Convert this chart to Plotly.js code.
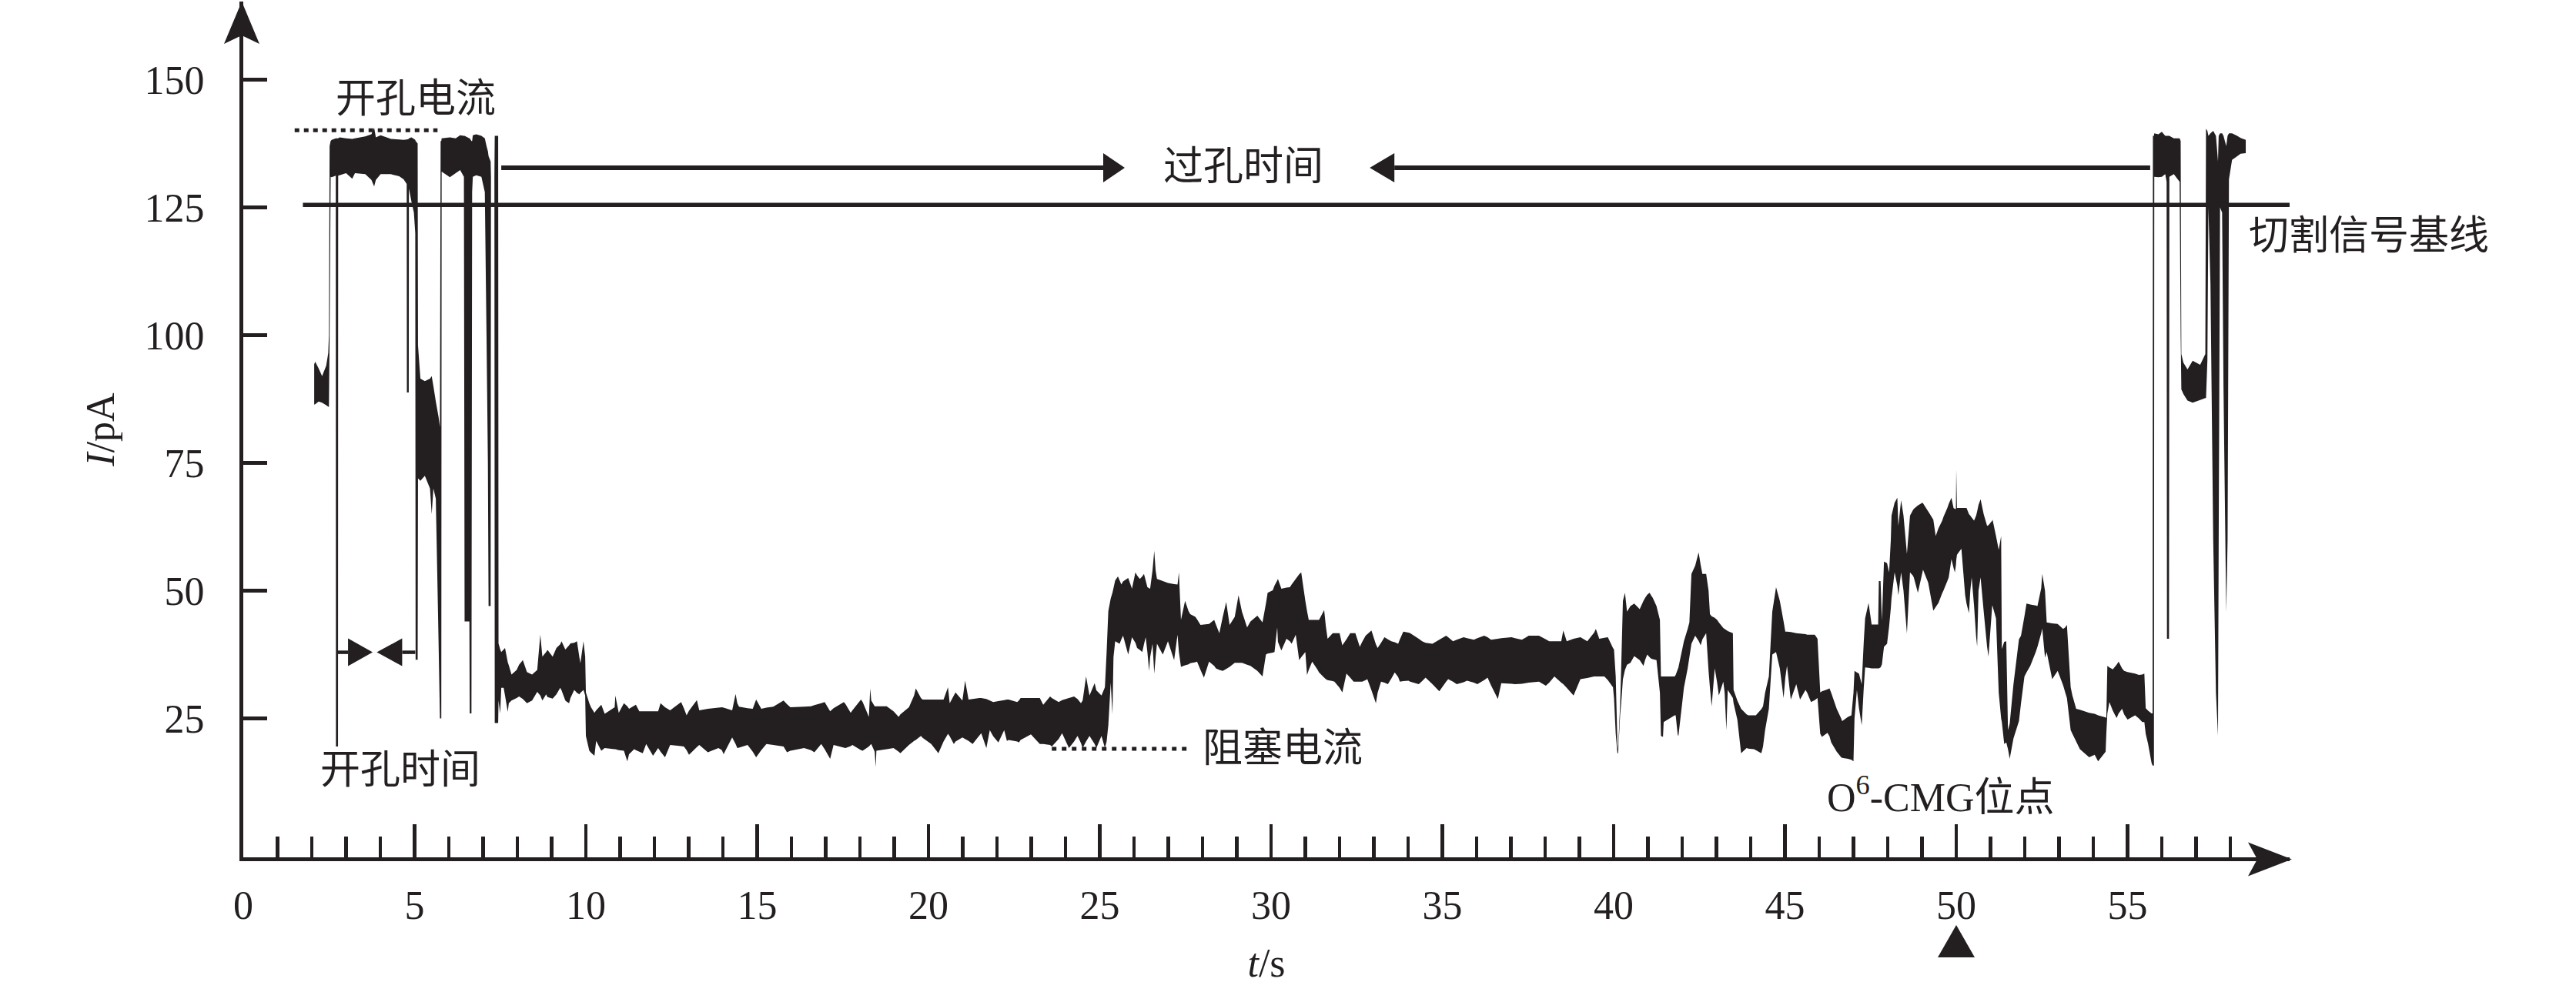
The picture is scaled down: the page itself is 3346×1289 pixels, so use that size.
<!DOCTYPE html>
<html>
<head>
<meta charset="utf-8">
<script src="https://cdn.plot.ly/plotly-3.0.1.min.js"></script>
<style>
html,body{margin:0;padding:0;background:#ffffff;}
#chart{width:3346px;height:1289px;}
</style>
</head>
<body>
<div id="chart"></div>
<script>
// ---------- DATA (time in s, upper / lower envelope of the current trace in pA) ----------
const entrySeg = [
[2.07,94.3,86.4],[2.10,94.8,86.5],[2.20,93.5,87.0],[2.30,92.0,86.8],[2.42,94.0,86.3],[2.48,96.5,86.0],
[2.50,100,86.0],[2.52,137.0,100],[2.55,138.0,131.0],[2.58,138.2,130.9],[2.70,138.5,131.2],[2.705,138.5,19.5],
[2.765,138.5,19.5],[2.77,138.5,131.2],[2.81,138.7,131.3],[3.00,138.5,131.7],[3.18,138.4,130.6],[3.26,138.5,131.7],
[3.56,138.9,131.5],[3.74,139.3,130.4],[3.82,140.6,129.1],[3.87,138.7,130.4],[4.01,139.1,131.5],[4.31,138.4,131.5],
[4.55,138.3,131.1],[4.68,138.2,130.5],[4.77,138.3,129.6],[4.775,138.3,88.8],[4.83,138.4,88.8],[4.835,138.5,128.7],
[4.91,138.7,126.1],[4.98,138.4,124],[5.02,138.2,120],[5.03,138.0,36.5],[5.09,137.5,36.5],[5.10,98,72],
[5.17,91.5,71.5],[5.30,91.0,72.5],[5.45,91.5,70],[5.50,92.0,65],[5.55,90.0,70],[5.62,87.0,68],
[5.70,84.0,40],[5.74,82.0,25],[5.76,138,25],[5.78,138,25],[5.79,138.5,132],[6.03,138.7,130.9],
[6.20,138.5,131.7],[6.33,139.1,132.3],[6.44,139.0,131],[6.46,139.0,44],[6.60,138.5,44],[6.61,138.5,26],
[6.66,138,26],[6.68,138,128],[6.70,139.1,131],[6.80,139.3,131.3],[6.95,139.0,131.0],[7.05,138.5,128],
[7.10,137,100],[7.14,136,75],[7.16,135,47],[7.22,134,47],[7.23,131,131],[7.33,131,131],
[7.34,139,24.1],[7.44,139,24.1],[7.45,39.7,28.5]
];
const blockSeg1 = [
[7.50,38.5,26.0],[7.53,38.0,31.0],[7.60,38.5,31.0],[7.64,38.8,29.5],[7.72,36.0,26.3],[7.75,35.4,28.0],
[7.83,33.6,28.5],[7.98,34.5,29.0],[8.05,35.5,29.3],[8.16,36.4,28.8],[8.28,34.1,28.0],[8.43,33.6,28.5],
[8.58,34.5,30.2],[8.67,41.4,29.5],[8.73,37.1,28.5],[8.84,38.0,29.7],[8.88,38.4,29.2],[9.03,37.1,28.9],
[9.14,38.8,29.7],[9.25,39.5,31.0],[9.29,40.1,30.5],[9.40,38.5,28.5],[9.44,38.8,28.3],[9.51,39.3,28.0],
[9.55,39.7,29.0],[9.66,39.8,30.6],[9.74,40.1,30.0],[9.81,37.0,29.7],[9.84,35.8,30.0],[9.93,40.1,30.6],
[9.98,37.1,29.5],[10.00,30.1,21.6]
];
const blockSeg2 = [
[10.10,28.0,18.7],[10.15,27.2,18.3],[10.25,26.1,17.7],[10.30,26.6,20.6],[10.45,27.7,18.7],[10.55,25.9,19.2],
[10.84,27.2,19.0],[10.86,29.5,19.0],[10.96,26.1,18.8],[11.11,28.0,18.7],[11.21,27.4,16.6],[11.26,26.9,18.0],
[11.41,27.5,19.0],[11.46,27.7,18.8],[11.56,26.4,18.5],[11.66,26.4,18.2],[11.76,26.4,20.0],[11.96,26.4,17.7],
[12.11,26.4,19.2],[12.18,28.0,18.5],[12.31,27.2,17.4],[12.46,26.6,19.8],[12.78,28.2,19.6],[12.86,27.0,19.5],
[12.94,25.6,18.8],[13.01,26.5,17.9],[13.24,28.6,19.4],[13.31,26.6,19.8],[13.56,26.9,18.4],[13.87,27.1,19.2],
[13.97,27.2,18.8],[14.02,27.1,18.0],[14.27,26.6,21.3],[14.37,29.8,20.0],[14.42,28.0,19.2],[14.47,27.3,19.3],
[14.72,27.0,19.8],[14.87,26.9,18.5],[14.97,28.7,17.4],[15.12,26.9,18.8],[15.27,27.1,20.0],[15.47,27.3,19.8],
[15.77,28.5,19.5],[15.87,27.8,18.4],[15.97,27.2,18.7],[16.37,27.3,19.2],[16.57,27.4,18.8],[16.67,27.6,18.4],
[16.87,28.0,20.0],[16.97,28.2,19.0],[17.13,26.4,17.1],[17.23,27.0,19.8],[17.53,28.2,19.3],[17.58,27.8,19.2],
[17.73,26.1,19.6],[17.78,26.6,19.8],[18.03,28.7,18.8],[18.08,28.2,18.7],[18.26,25.3,19.5],[18.30,30.9,19.8],
[18.33,28.5,20.0],[18.43,27.4,18.5],[18.46,27.4,15.5],[18.48,27.4,18.7],[18.78,27.4,19.0],[18.98,26.4,19.2],
[19.13,25.3,18.5],[19.18,25.8,18.2],[19.43,27.2,19.8],[19.58,29.5,20.6],[19.63,30.9,20.8],[19.78,29.0,21.6],
[19.83,28.7,21.2],[20.08,28.7,20.0],[20.29,28.7,18.2],[20.44,28.7,20.5],[20.57,31.1,22.0],[20.62,28.0,21.5],
[20.74,29.5,20.0],[20.79,30.1,20.5],[20.99,28.5,21.3],[21.07,32.4,21.0],[21.17,28.7,20.6],[21.29,28.8,20.0],
[21.49,29.0,21.7],[21.54,29.0,22.1],[21.69,28.8,19.2],[21.79,28.5,22.7],[21.89,28.2,21.5],[22.04,28.4,20.3],
[22.21,28.6,22.7],[22.29,28.7,20.6],[22.34,28.7,20.8],[22.59,28.2,20.5],[22.64,28.5,20.3],[22.69,29.0,20.8],
[22.99,29.0,21.9],[23.25,29.0,20.0],[23.35,27.7,20.0],[23.55,29.3,19.8],[23.60,29.0,19.5],[23.80,28.2,21.0],
[23.90,28.6,22.1],[24.10,29.0,19.2],[24.25,29.3,20.5],[24.35,28.8,21.6],[24.45,28.0,20.2],[24.50,28.5,19.2],
[24.60,33.2,20.5],[24.70,29.5,21.6],[24.85,31.9,20.0],[24.90,30.5,19.2],[25.05,29.5,21.6],[25.15,31.1,19.2],
[25.20,38.0,20.5],[25.25,46.0,23.7],[25.32,48.5,32.0],[25.37,49.6,25.8],[25.40,50.5,37.0],[25.45,52.0,40.1]
];
const blockSeg3 = [
[25.53,52.8,39.8],[25.58,52.0,39.6],[25.63,51.2,40.5],[25.68,51.8,41.2],[25.83,52.5,37.5],[25.94,50.4,40.9],
[26.04,53.6,39.8],[26.09,53.0,38.8],[26.17,52.3,38.4],[26.24,52.8,38.0],[26.29,53.3,39.5],[26.34,52.0,40.9],
[26.39,50.7,38.0],[26.44,50.5,34.3],[26.47,50.4,37.0],[26.54,54.0,39.6],[26.59,57.8,33.8],[26.63,54.0,37.0],
[26.67,52.3,39.6],[26.84,51.9,37.5],[26.99,51.5,40.1],[27.17,51.3,36.4],[27.27,51.2,41.4],[27.31,53.6,38.0],
[27.37,44.3,35.1],[27.49,48.0,35.4],[27.59,46.0,35.6],[27.64,45.4,35.8],[27.79,44.9,36.0],[27.84,44.4,36.1],
[27.94,43.3,34.5],[28.04,43.4,33.0],[28.19,43.5,36.1],[28.34,44.3,35.3],[28.39,43.4,34.8],[28.49,41.7,34.5],
[28.59,44.9,34.3],[28.69,47.8,34.7],[28.79,43.3,35.1],[28.94,44.9,35.9],[29.05,49.1,35.9],[29.15,45.9,35.9],
[29.30,42.8,35.5],[29.40,44.0,35.3],[29.60,45.1,34.3],[29.75,43.8,33.2],[29.85,47.5,37.5],[29.90,49.6,37.7],
[30.05,50.1,37.9],[30.10,51.0,38.0],[30.18,52.0,42.8],[30.20,52.3,40.0],[30.30,50.4,38.3],[30.45,50.6,40.6],
[30.55,50.7,40.1],[30.60,51.2,39.6],[30.72,52.3,41.4],[30.82,53.2,36.4],[30.88,53.6,37.0],[31.00,48.0,38.0],
[31.05,46.0,33.5],[31.10,44.3,34.5],[31.20,44.3,36.1],[31.35,44.3,34.6],[31.40,44.3,34.0],[31.55,46.2,33.0],
[31.60,43.0,32.7],[31.65,40.6,32.5],[31.80,41.7,32.3],[31.85,41.7,32.2],[32.00,41.7,31.0],[32.08,39.3,30.1],
[32.20,40.5,33.8],[32.31,41.7,33.0],[32.41,41.7,32.2],[32.46,41.7,32.2],[32.59,39.0,32.2],[32.66,40.0,32.2],
[32.76,41.2,32.5],[32.81,41.5,32.7],[32.93,42.2,30.5],[33.06,39.5,28.0],[33.11,38.8,30.0],[33.21,39.8,32.2],
[33.31,40.9,32.0],[33.41,40.5,31.7],[33.51,40.1,32.8],[33.61,39.9,34.0],[33.71,39.6,33.1],[33.76,40.5,32.2],
[33.86,42.0,32.3],[34.01,41.8,32.4],[34.06,41.7,32.2],[34.31,40.6,31.7],[34.41,40.1,32.3],[34.51,39.8,33.0],
[34.71,39.6,31.7],[34.91,40.4,30.3],[35.11,41.2,32.2],[35.17,40.9,32.7],[35.31,40.1,32.2],[35.42,40.4,31.7],
[35.62,40.9,32.1],[35.72,40.7,32.4],[35.92,40.4,32.0],[36.02,40.7,31.7],[36.22,41.2,32.5],[36.32,40.9,33.0],
[36.42,40.4,31.5],[36.62,40.6,28.8],[36.72,40.7,31.9],[37.02,40.9,31.8],[37.12,40.7,31.7],[37.32,40.4,31.8],
[37.42,40.8,31.9],[37.52,41.2,32.0],[37.82,41.2,32.2],[38.02,40.5,31.4],[38.12,40.1,32.0],[38.27,40.1,33.2],
[38.47,40.1,32.0],[38.53,42.2,31.7],[38.63,40.1,31.0],[38.83,40.6,29.5],[39.03,40.9,32.7],[39.23,40.1,32.9],
[39.43,41.8,33.2],[39.48,42.5,33.2],[39.58,40.6,33.2],[39.73,40.8,33.2],[39.83,40.9,32.5],[39.98,38.8,31.1],
[40.01,38.5,29.0],[40.06,33.2,22.0],[40.11,20.0,18.2],[40.13,19.0,18.2],[40.19,28.0,25.8],[40.22,35.0,28.0],
[40.27,48.0,32.7]
];
const blockSeg4 = [
[40.33,49.6,34.5],[40.39,45.9,35.5],[40.49,47.0,35.9],[40.60,47.5,37.2],[40.76,46.4,36.4],[40.87,48.0,35.3],
[40.92,48.6,36.5],[40.98,49.2,37.5],[41.05,49.6,37.0],[41.09,49.1,36.7],[41.14,48.6,36.6],[41.25,47.0,36.4],
[41.35,44.3,30.0],[41.38,33.2,21.6],[41.44,33.2,21.4],[41.46,33.2,24.3],[41.78,33.2,25.6],[41.81,33.5,25.6],
[41.87,34.6,21.8],[41.89,35.0,21.6],[42.00,38.5,28.0],[42.05,40.1,31.0],[42.16,42.5,34.8],[42.21,43.8,37.0],
[42.27,53.3,39.6],[42.38,54.9,41.2],[42.48,57.5,40.2],[42.54,55.0,39.3],[42.59,53.3,40.5],[42.70,53.3,41.7],
[42.77,50.0,34.3],[42.81,45.4,31.0],[42.86,45.0,27.4],[42.95,44.7,34.8],[43.02,44.3,32.0],[43.07,43.8,29.5],
[43.20,42.7,32.2],[43.24,42.5,30.0],[43.29,42.3,22.7],[43.33,42.1,30.6],[43.48,41.7,29.0],[43.50,30.6,28.0],
[43.61,28.5,24.8],[43.72,26.9,18.2],[43.88,25.8,19.2],[43.93,25.6,19.1],[44.10,25.6,19.0],[44.15,25.6,18.8],
[44.31,26.8,18.2],[44.36,27.4,19.5],[44.42,30.0,22.7],[44.53,33.2,26.9],[44.63,45.9,37.5],[44.74,50.7,38.0],
[44.85,48.0,34.8],[44.96,44.0,29.0],[45.01,42.0,33.0],[45.06,42.0,35.3],[45.17,41.9,28.7],[45.33,41.7,31.7],
[45.44,41.6,28.7],[45.60,41.5,30.6],[45.65,41.4,30.0],[45.76,41.4,28.2],[45.87,41.4,28.6],[45.95,40.6,29.0],
[46.03,30.1,22.0],[46.08,30.3,21.4],[46.24,30.7,22.2],[46.30,30.9,21.5],[46.35,30.0,20.3],[46.51,26.9,18.5],
[46.64,25.0,17.4],[46.67,24.5,17.3],[46.84,25.3,17.1],[46.94,25.6,16.9],[47.00,30.0,16.6],[47.03,34.3,25.0],
[47.10,34.0,30.6],[47.16,33.8,27.0],[47.24,31.7,23.7],[47.30,40.0,31.0],[47.34,44.6,35.0],[47.44,47.6,34.9],
[47.53,43.4,34.8],[47.72,43.4,34.8],[47.74,51.9,34.8],[47.79,51.9,35.0],[47.83,44.1,35.6],[47.89,55.7,39.0],
[47.98,55.4,39.6],[48.04,53.6,43.0],[48.09,60.0,46.6],[48.11,64.7,48.5],[48.20,67.2,53.6],[48.28,68.2,51.0],
[48.31,62.7,49.1],[48.39,67.7,53.6],[48.46,64.7,50.0],[48.56,57.2,41.6],[48.65,64.7,53.6],[48.73,65.7,53.0],
[48.76,66.0,52.6],[48.88,66.7,49.6],[49.01,67.2,53.5],[49.03,67.1,54.1],[49.18,65.5,51.6],[49.21,65.2,50.5],
[49.33,63.9,46.1],[49.40,60.7,46.8],[49.48,62.2,47.6],[49.59,63.7,49.5],[49.63,64.5,50.1],[49.74,66.2,51.9],
[49.78,67.0,52.6],[49.86,68.2,56.2],[49.92,66.2,54.5],[49.96,66.0,53.6],[49.99,66.0,55.0],[50.00,73.7,56.0],
[50.02,66.2,57.0],[50.07,66.2,57.5],[50.15,66.2,58.2],[50.26,66.2,49.1],[50.30,66.2,47.5],[50.37,65.0,45.6],
[50.41,64.7,50.0],[50.45,64.3,52.6],[50.52,63.7,47.0],[50.58,64.7,41.0],[50.61,65.5,39.1],[50.65,66.8,50.0],
[50.71,67.9,52.6],[50.80,65.0,46.0],[50.90,62.7,39.0],[50.94,62.8,37.1],[51.05,63.7,47.1],[51.06,63.9,47.0],
[51.16,60.7,44.6],[51.24,58.0,30.0],[51.31,60.7,25.0],[51.33,38.6,24.3],[51.40,40.0,20.0],[51.46,40.1,20.3],
[51.51,22.7,19.0],[51.56,24.0,17.1],[51.67,31.7,21.1],[51.83,40.5,24.5],[51.89,41.2,28.0],[51.99,45.0,33.2],
[52.05,47.5,34.0],[52.16,47.3,35.3],[52.32,47.1,38.0],[52.37,47.0,39.0],[52.48,50.5,41.7],[52.51,53.3,42.6],
[52.59,50.0,36.9],[52.64,43.8,38.0],[52.80,43.6,32.7],[52.96,43.5,34.3],[53.12,42.5,31.5],[53.18,42.8,30.1],
[53.23,43.3,29.0],[53.34,31.1,22.7],[53.39,29.5,22.0],[53.50,26.9,20.5],[53.61,26.7,19.0],[53.88,26.1,17.4],
[54.04,25.9,17.9],[54.14,25.6,16.6],[54.36,25.2,18.5],[54.38,25.1,22.0],[54.41,35.3,26.0],[54.47,35.0,28.2],
[54.57,34.6,26.5],[54.68,35.5,25.1],[54.74,36.1,26.0],[54.84,34.8,26.9],[54.90,34.3,25.8],[55.00,34.1,24.8],
[55.22,33.8,25.6],[55.33,33.5,25.0],[55.43,33.6,24.3],[55.49,33.8,24.3],[55.53,27.0,22.0],[55.60,26.5,20.0],
[55.70,26.0,16.3],[55.73,26.0,15.8]
];
const exitSeg = [
[55.74,139.0,15.8],[55.77,139.0,15.8],[55.78,139.5,131.0],[55.90,139.3,130.9],[56.00,139.8,131.0],[56.10,139.0,131.5],
[56.14,139.0,130.0],[56.15,139.0,40.6],[56.21,139.0,40.6],[56.22,139.0,131.0],[56.35,138.5,131.5],[56.52,138.5,130.0],
[56.55,138.0,100.0],[56.57,96.3,89.4],[56.63,94.6,88.5],[56.75,93.3,87.2],[56.90,95.0,86.8],[57.12,94.2,87.3],
[57.27,96.3,87.7],[57.29,140.4,87.7],[57.33,140.0,95.0],[57.36,139.0,125.0],[57.42,139.5,110.0],[57.50,140.0,60.0],
[57.58,139.0,30.0],[57.64,134.0,21.6],[57.66,139.0,60.0],[57.70,139.5,125.0],[57.76,139.5,124.0],[57.80,139.0,90.0],
[57.88,137.0,45.8],[57.92,139.0,60.0],[57.96,139.5,130.5],[58.05,139.5,134.3],[58.20,139.0,135.0],[58.30,138.6,135.5],
[58.45,138.2,135.6]
];

const xMajorTicks = [0,5,10,15,20,25,30,35,40,45,50,55];
const xMajorLabels = ['0','5','10','15','20','25','30','35','40','45','50','55'];
const xMinorTicks = [1,2,3,4,6,7,8,9,11,12,13,14,16,17,18,19,21,22,23,24,26,27,28,29,31,32,33,34,36,37,38,39,41,42,43,44,46,47,48,49,51,52,53,54,56,57,58];
const yTicks = [25,50,75,100,125,150];
const yTickLabels = ['25','50','75','100','125','150'];

const baselinePA = 125.5;          // cut-signal baseline
const openPoreLevelPA = 140.1;     // open-pore current level
const openPoreSpanS = [1.50, 5.67];
const blockLevelPA = 19.06;        // blockade current level
const blockSpanS = [23.6, 27.69];
const transitLevelPA = 132.75;     // translocation-time arrows
const transitLeftS = [7.53, 25.73];
const transitRightS = [32.88, 55.66];
const openTimeLevelPA = 37.95;     // open-pore-time markers
const openTimeSpanS = [2.72, 5.02];
const siteTimeS = 50;              // O6-CMG site

const labelTexts = ['开孔电流','过孔时间','切割信号基线','开孔时间','阻塞电流','O<sup>6</sup>-CMG位点'];

// ---------- LAYOUT ----------
const INK = '#231f20';
const SERIF = 'Liberation Serif, Noto Sans CJK SC, serif';
const W = 3346, H = 1289;
const PX = {L:316, R:2974, T:2, B:1114};
const X_RANGE = [0, 59.73];
const Y_RANGE = [-2.17, 165.28];
const pX = x => (x - PX.L) / (PX.R - PX.L);
const pY = y => (PX.B - y) / (PX.B - PX.T);

const rows = [].concat(entrySeg, blockSeg1, blockSeg2, blockSeg3, blockSeg4, exitSeg);
const tS = rows.map(r => r[0]);
const hiPA = rows.map(r => r[1]);
const loPA = rows.map(r => r[2]);

const traces = [
  {x:tS, y:loPA, type:'scatter', mode:'lines', line:{width:0, color:INK, simplify:false},
   hoverinfo:'skip', showlegend:false},
  {x:tS, y:hiPA, type:'scatter', mode:'lines', line:{width:0, color:INK, simplify:false},
   fill:'tonexty', fillcolor:INK, hoverinfo:'skip', showlegend:false}
];

function hLine(x0, x1, y, width, dash) {
  return {type:'line', xref:'x', yref:'y', x0:x0, x1:x1, y0:y, y1:y, layer:'above',
          line:{color:INK, width:width, dash:dash || 'solid'}};
}
function dataTri(pts) {
  return {type:'path', xref:'x', yref:'y', layer:'above', fillcolor:INK, line:{width:0},
          path:'M' + pts.map(p => p[0] + ',' + p[1]).join(' L') + ' Z'};
}
function paperPoly(pts) {
  return {type:'path', xref:'paper', yref:'paper', layer:'above', fillcolor:INK, line:{width:0},
          path:'M' + pts.map(p => pX(p[0]).toFixed(5) + ',' + pY(p[1]).toFixed(5)).join(' L') + ' Z'};
}
const arrowHalf = 19 / 6.641;   // pA
const markHalf = 18 / 6.641;
const sPerPx = 1 / 44.5;

const shapes = [
  hLine(1.74, X_RANGE[1], baselinePA, 5.5),
  hLine(openPoreSpanS[0], openPoreSpanS[1], openPoreLevelPA, 5, '6px,6px'),
  hLine(blockSpanS[0], blockSpanS[1], blockLevelPA, 5, '6px,7px'),
  // translocation arrows
  hLine(transitLeftS[0], transitLeftS[1] - 28*sPerPx, transitLevelPA, 6),
  dataTri([[transitLeftS[1] - 28*sPerPx, transitLevelPA + arrowHalf], [transitLeftS[1], transitLevelPA],
           [transitLeftS[1] - 28*sPerPx, transitLevelPA - arrowHalf]]),
  hLine(transitRightS[0] + 32*sPerPx, transitRightS[1], transitLevelPA, 6),
  dataTri([[transitRightS[0] + 32*sPerPx, transitLevelPA + arrowHalf], [transitRightS[0], transitLevelPA],
           [transitRightS[0] + 32*sPerPx, transitLevelPA - arrowHalf]]),
  // open-pore time markers
  hLine(openTimeSpanS[0], openTimeSpanS[0] + 15*sPerPx, openTimeLevelPA, 4.5),
  dataTri([[openTimeSpanS[0] + 15*sPerPx, openTimeLevelPA + markHalf],
           [openTimeSpanS[0] + 47*sPerPx, openTimeLevelPA],
           [openTimeSpanS[0] + 15*sPerPx, openTimeLevelPA - markHalf]]),
  dataTri([[openTimeSpanS[1] - 17*sPerPx, openTimeLevelPA + markHalf],
           [openTimeSpanS[1] - 50*sPerPx, openTimeLevelPA],
           [openTimeSpanS[1] - 17*sPerPx, openTimeLevelPA - markHalf]]),
  hLine(openTimeSpanS[1] - 17*sPerPx, openTimeSpanS[1], openTimeLevelPA, 4.5),
  // axis arrowheads
  paperPoly([[291,57],[314,2],[337,57],[314,46]]),
  paperPoly([[2920,1094.5],[2977,1116.5],[2920,1138.5],[2932,1116.5]]),
  // site marker under the axis
  paperPoly([[PX.L + siteTimeS*44.5 - 24,1244],[PX.L + siteTimeS*44.5,1202],[PX.L + siteTimeS*44.5 + 24,1244]])
];

const labelPos = [[540,129],[1615,216],[3077,307],[520,1000],[1666,972],[2521,1032]];
const annotations = labelTexts.map((txt, i) => ({
  text: txt, xref:'paper', yref:'paper', x:pX(labelPos[i][0]), y:pY(labelPos[i][1]),
  xanchor:'center', yanchor:'middle', showarrow:false,
  font:{family:SERIF, size:52, color:INK}
}));

const layout = {
  width:W, height:H,
  margin:{l:PX.L, r:W - PX.R, t:PX.T, b:H - PX.B, pad:0},
  paper_bgcolor:'#ffffff', plot_bgcolor:'#ffffff',
  showlegend:false,
  font:{family:SERIF, color:INK, size:48},
  xaxis:{
    range:X_RANGE, showgrid:false, zeroline:false,
    showline:true, linecolor:INK, linewidth:5,
    tickmode:'array', tickvals:xMajorTicks, ticktext:xMajorLabels,
    ticks:'inside', ticklen:43, tickwidth:4.5, tickcolor:INK,
    ticklabelstandoff:13,
    tickfont:{family:SERIF, size:52, color:INK},
    minor:{tickmode:'array', tickvals:xMinorTicks, ticks:'inside', ticklen:27, tickwidth:4.5, tickcolor:INK, showgrid:false},
    title:{text:'<i>t</i>/s', font:{family:SERIF, size:52, color:INK}, standoff:30},
    fixedrange:true
  },
  yaxis:{
    range:Y_RANGE, showgrid:false, zeroline:false,
    showline:true, linecolor:INK, linewidth:5,
    tickmode:'array', tickvals:yTicks, ticktext:yTickLabels,
    ticks:'inside', ticklen:31, tickwidth:5, tickcolor:INK,
    ticklabelstandoff:35,
    tickfont:{family:SERIF, size:52, color:INK},
    title:{text:'<i>I</i>/pA', font:{family:SERIF, size:52, color:INK}, standoff:24},
    fixedrange:true
  },
  shapes:shapes,
  annotations:annotations
};

Plotly.newPlot('chart', traces, layout, {staticPlot:true, displayModeBar:false});
</script>
</body>
</html>
